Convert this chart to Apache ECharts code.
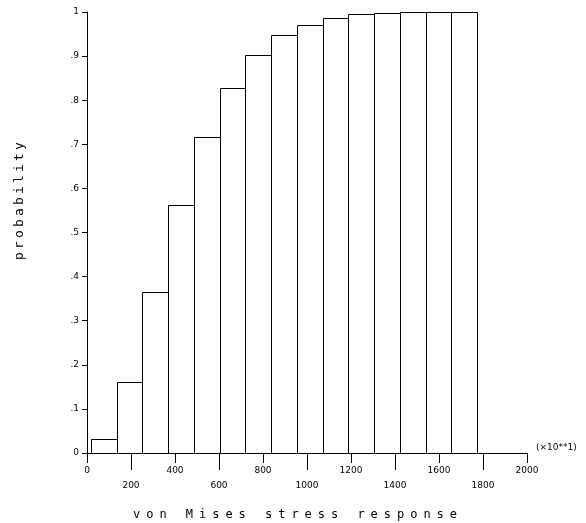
<!DOCTYPE html>
<html>
<head>
<meta charset="utf-8">
<script src="https://cdn.jsdelivr.net/npm/echarts@6/dist/echarts.min.js"></script>
<style>
  html, body { margin: 0; padding: 0; background: #fff; }
  #chart { width: 586px; height: 523px; }
</style>
</head>
<body>
<div id="chart"></div>
<script>
// bin edges (x, in units of 10) and cumulative probability per bin
const binEdges = [18, 135, 252, 369, 486, 603, 720, 837, 954, 1071, 1188, 1305, 1422, 1539, 1656, 1773];
const probability = [0.032, 0.161, 0.366, 0.562, 0.716, 0.827, 0.902, 0.948, 0.970, 0.986, 0.995, 0.998, 0.999, 0.9995, 1.0];
const xTickLabels = ['0', '200', '400', '600', '800', '1000', '1200', '1400', '1600', '1800', '2000'];
const yTickLabels = ['0', '.1', '.2', '.3', '.4', '.5', '.6', '.7', '.8', '.9', '1'];
const xTitle = 'von Mises stress response';
const yTitle = 'probability';
const xUnit = '(\u00d710**1)';

// build [start, end, value] rows for the custom series
const bars = probability.map((p, i) => [binEdges[i], binEdges[i + 1], p]);

// spread letters like the old plotter font: one fixed-width cell per char
function spaced(str) {
  return str.split('').map(c => '{c|' + c + '}').join('');
}

const labelFont = { fontFamily: 'DejaVu Sans', fontSize: 9, color: '#000' };

const chart = echarts.init(document.getElementById('chart'));
chart.setOption({
  animation: false,
  backgroundColor: '#fff',
  grid: { left: 87, right: 59, top: 12, bottom: 70 },
  xAxis: [
    {
      type: 'value',
      position: 'bottom',
      min: 0,
      max: 2000,
      interval: 400,
      splitLine: { show: false },
      axisLine: { lineStyle: { color: '#000', width: 1 } },
      axisTick: { length: 10, lineStyle: { color: '#000' } },
      axisLabel: Object.assign({ margin: 13, formatter: v => xTickLabels[Math.round(v / 200)] }, labelFont),
      name: xUnit,
      nameLocation: 'end',
      nameGap: 9,
      nameTextStyle: { fontFamily: 'DejaVu Sans', fontSize: 9, color: '#000', align: 'left', verticalAlign: 'bottom', padding: [0, 0, 1, 0] }
    },
    {
      // second axis only for the long ticks / lower row labels
      type: 'category',
      position: 'bottom',
      data: xTickLabels,
      boundaryGap: false,
      axisLine: { show: false },
      axisTick: { length: 17, interval: (i) => i % 2 === 1, lineStyle: { color: '#000' } },
      axisLabel: Object.assign({ margin: 28, interval: (i) => i % 2 === 1 }, labelFont),
      splitLine: { show: false }
    }
  ],
  yAxis: {
    type: 'value',
    min: 0,
    max: 1,
    interval: 0.1,
    splitLine: { show: false },
    axisLine: { show: true, lineStyle: { color: '#000', width: 1 } },
    axisTick: { show: true, length: 5, lineStyle: { color: '#000' } },
    axisLabel: Object.assign({ margin: 8, formatter: v => yTickLabels[Math.round(v * 10)] }, labelFont)
  },
  graphic: [
    {
      type: 'text',
      x: 295,
      y: 515,
      style: {
        text: spaced(xTitle),
        textAlign: 'center',
        textVerticalAlign: 'middle',
        rich: { c: { width: 13.2, align: 'center', fontFamily: 'DejaVu Sans Mono', fontSize: 12, fill: '#000' } }
      }
    },
    {
      type: 'text',
      x: 20,
      y: 201,
      rotation: Math.PI / 2,
      style: {
        text: spaced(yTitle),
        textAlign: 'center',
        textVerticalAlign: 'middle',
        rich: { c: { width: 11, align: 'center', fontFamily: 'DejaVu Sans Mono', fontSize: 13, fill: '#000' } }
      }
    }
  ],
  series: [
    {
      type: 'custom',
      xAxisIndex: 0,
      yAxisIndex: 0,
      data: bars,
      renderItem: function (params, api) {
        const p0 = api.coord([api.value(0), api.value(2)]);
        const p1 = api.coord([api.value(1), 0]);
        const x0 = Math.round(p0[0]), y0 = Math.round(p0[1]);
        const x1 = Math.round(p1[0]), y1 = Math.round(p1[1]);
        return {
          type: 'rect',
          shape: { x: x0 + 0.5, y: y0 + 0.5, width: x1 - x0, height: y1 - y0 },
          style: { fill: '#fff', stroke: '#000', lineWidth: 1 }
        };
      }
    }
  ]
});
</script>
</body>
</html>
